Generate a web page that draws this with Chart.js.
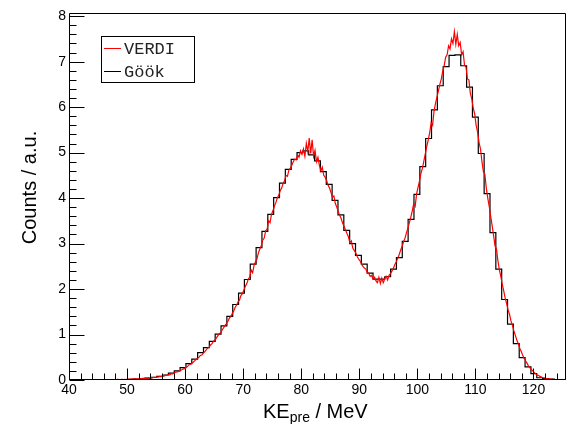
<!DOCTYPE html>
<html>
<head>
<meta charset="utf-8">
<script src="https://cdn.jsdelivr.net/npm/chart.js@4.4.1/dist/chart.umd.min.js"></script>
<style>
  html, body { margin: 0; padding: 0; background: #fff; }
  #wrap { width: 570px; height: 424px; }
</style>
</head>
<body>
<div id="wrap"><canvas id="spectrum"></canvas></div>
<script>
// axis range (MeV / counts)
const xMin = 40;
const xMax = 125.6;
const yMin = 0;
const yMax = 8.07;

// Göök: coarse histogram, 85 bins over the whole x range
const gookBins = 85;
const gookCounts = [
  0, 0, 0, 0, 0, 0, 0.003, 0.005, 0.008, 0.01,
  0.012, 0.018, 0.03, 0.04, 0.06, 0.08, 0.11, 0.15, 0.20, 0.27,
  0.36, 0.46, 0.60, 0.71, 0.85, 1.01, 1.19, 1.40, 1.66, 1.91,
  2.21, 2.55, 2.91, 3.27, 3.64, 4.01, 4.33, 4.63, 4.85, 5.00,
  5.04, 4.95, 4.82, 4.58, 4.30, 3.95, 3.63, 3.29, 3.00, 2.74,
  2.55, 2.35, 2.22, 2.22, 2.27, 2.44, 2.69, 3.05, 3.53, 4.08,
  4.69, 5.31, 5.94, 6.47, 6.89, 7.14, 7.15, 6.91, 6.44, 5.78,
  4.98, 4.10, 3.24, 2.44, 1.77, 1.23, 0.80, 0.49, 0.29, 0.14,
  0.05, 0.03, 0.02, 0.01, 0.005
];

// VERDI: fine histogram, 0.25 MeV bins, first bin centre at 40.125
const verdiStart = 40.125;
const verdiStep = 0.25;
const verdiCounts = [
  0, 0, 0, 0,                  // 40
  0, 0, 0, 0,                  // 41
  0, 0, 0, 0,                  // 42
  0, 0, 0, 0,                  // 43
  0, 0.005, 0, 0.005,          // 44
  0.005, 0, 0.005, 0.005,      // 45
  0.005, 0.01, 0.005, 0.005,   // 46
  0.01, 0.005, 0.01, 0.01,     // 47
  0.01, 0.015, 0.01, 0.01,     // 48
  0.015, 0.01, 0.015, 0.01,    // 49
  0.02, 0.015, 0.02, 0.025,    // 50
  0.02, 0.03, 0.025, 0.02,     // 51
  0.03, 0.025, 0.035, 0.035,   // 52
  0.04, 0.035, 0.045, 0.04,    // 53
  0.05, 0.045, 0.06, 0.055,    // 54
  0.07, 0.065, 0.08, 0.075,    // 55
  0.09, 0.085, 0.11, 0.10,     // 56
  0.12, 0.115, 0.14, 0.135,    // 57
  0.16, 0.17, 0.18, 0.19,      // 58
  0.21, 0.22, 0.24, 0.25,      // 59
  0.28, 0.29, 0.33, 0.34,      // 60
  0.36, 0.39, 0.42, 0.45,      // 61
  0.47, 0.50, 0.54, 0.55,      // 62
  0.59, 0.62, 0.66, 0.70,      // 63
  0.72, 0.77, 0.80, 0.85,      // 64
  0.88, 0.92, 0.97, 1.02,      // 65
  1.04, 1.10, 1.15, 1.20,      // 66
  1.24, 1.29, 1.36, 1.40,      // 67
  1.46, 1.52, 1.60, 1.65,      // 68
  1.72, 1.76, 1.86, 1.90,      // 69
  1.98, 2.06, 2.12, 2.22,      // 70
  2.26, 2.42, 2.36, 2.52,      // 71
  2.60, 2.66, 2.80, 2.88,      // 72
  2.96, 3.08, 3.12, 3.28,      // 73
  3.32, 3.50, 3.46, 3.64,      // 74
  3.72, 3.82, 3.90, 4.00,      // 75
  4.06, 4.16, 4.22, 4.32,      // 76
  4.38, 4.50, 4.48, 4.62,      // 77
  4.66, 4.72, 4.80, 4.86,      // 78
  4.84, 4.95, 4.90, 5.04,      // 79
  4.96, 5.08, 4.92, 5.20,      // 80
  5.02, 5.32, 4.98, 5.28,      // 81
  4.92, 5.05, 4.80, 4.90,      // 82
  4.72, 4.60, 4.68, 4.50,      // 83
  4.46, 4.38, 4.28, 4.22,      // 84
  4.12, 4.02, 4.05, 3.88,      // 85
  3.80, 3.70, 3.62, 3.55,      // 86
  3.45, 3.38, 3.30, 3.22,      // 87
  3.15, 3.02, 3.06, 2.90,      // 88
  2.85, 2.80, 2.72, 2.66,      // 89
  2.62, 2.55, 2.50, 2.46,      // 90
  2.44, 2.36, 2.35, 2.28,      // 91
  2.30, 2.22, 2.26, 2.18,      // 92
  2.14, 2.26, 2.12, 2.24,      // 93
  2.14, 2.22, 2.28, 2.20,      // 94
  2.30, 2.34, 2.40, 2.46,      // 95
  2.54, 2.60, 2.68, 2.76,      // 96
  2.86, 2.94, 3.04, 3.12,      // 97
  3.24, 3.34, 3.46, 3.58,      // 98
  3.72, 3.88, 3.82, 4.10,      // 99
  4.24, 4.38, 4.55, 4.66,      // 100
  4.82, 4.98, 5.14, 5.28,      // 101
  5.44, 5.66, 5.60, 5.92,      // 102
  6.08, 6.22, 6.36, 6.50,      // 103
  6.62, 6.80, 6.92, 7.10,      // 104
  7.15, 7.35, 7.28, 7.50,      // 105
  7.40, 7.66, 7.38, 7.60,      // 106
  7.35, 7.42, 7.15, 7.22,      // 107
  6.92, 6.88, 6.62, 6.60,      // 108
  6.30, 6.18, 5.98, 5.85,      // 109
  5.60, 5.45, 5.22, 5.08,      // 110
  4.80, 4.58, 4.52, 4.22,      // 111
  4.00, 3.82, 3.60, 3.40,      // 112
  3.18, 2.95, 2.88, 2.62,      // 113
  2.42, 2.28, 2.10, 1.96,      // 114
  1.80, 1.68, 1.54, 1.44,      // 115
  1.30, 1.20, 1.08, 0.98,      // 116
  0.88, 0.80, 0.70, 0.63,      // 117
  0.55, 0.48, 0.42, 0.37,      // 118
  0.31, 0.27, 0.23, 0.20,      // 119
  0.16, 0.14, 0.11, 0.10,      // 120
  0.08, 0.065, 0.05, 0.045,    // 121
  0.035, 0.03, 0.025, 0.02,    // 122
  0.015, 0.013, 0.01, 0.008,   // 123
  0.006, 0.005, 0.004, 0.003,  // 124
  0.002, 0                     // 125
];

// tick spacing, ROOT style (major / minor)
const xMajor = 10, xMinor = 2;
const yMajor = 1, yMinor = 0.2;

const seriesNames = ['VERDI', 'Göök'];
const seriesColors = ['#ff0000', '#000000'];

// build the point lists
const gookWidth = (xMax - xMin) / gookBins;
const gookPoints = gookCounts.map((c, k) => ({ x: xMin + k * gookWidth, y: c }));
gookPoints.push({ x: xMax, y: gookCounts[gookCounts.length - 1] });

const verdiPoints = verdiCounts.map((c, i) => ({ x: verdiStart + i * verdiStep, y: c }));

// ticks, frame, legend and titles drawn the ROOT way
const rootFrame = {
  id: 'rootFrame',
  afterDraw(chart) {
    const { ctx, chartArea: a, scales: { x, y } } = chart;
    const L = Math.round(a.left) + 0.5, R = Math.round(a.right) - 0.5;
    const T = Math.round(a.top) + 0.5, B = Math.round(a.bottom) - 0.5;
    ctx.save();
    ctx.strokeStyle = '#000';
    ctx.lineWidth = 1;
    ctx.beginPath();
    ctx.rect(L, T, R - L, B - T);
    // x ticks
    for (let v = xMin; v <= xMax + 1e-6; v += xMinor) {
      const px = Math.round(x.getPixelForValue(v)) + 0.5;
      const major = Math.abs(v / xMajor - Math.round(v / xMajor)) < 1e-6;
      ctx.moveTo(px, B);
      ctx.lineTo(px, B - (major ? 11 : 6));
    }
    // y ticks
    for (let i = 0; yMin + i * yMinor <= yMax + 1e-6; i++) {
      const v = yMin + i * yMinor;
      const py = Math.round(y.getPixelForValue(v)) + 0.5;
      const major = i % Math.round(yMajor / yMinor) === 0;
      ctx.moveTo(L, py);
      ctx.lineTo(L + (major ? 15 : 7), py);
    }
    ctx.stroke();

    // legend box
    const bx = 101, by = 36, bw = 93, bh = 46;
    ctx.fillStyle = '#fff';
    ctx.fillRect(bx, by, bw, bh);
    ctx.strokeRect(bx + 0.5, by + 0.5, bw, bh);
    ctx.font = '17px "Liberation Mono", monospace';
    ctx.textBaseline = 'middle';
    chart.data.datasets.forEach((ds, i) => {
      const ly = by + 12 + i * 23;
      ctx.strokeStyle = ds.borderColor;
      ctx.beginPath();
      ctx.moveTo(bx + 3, ly + 0.5);
      ctx.lineTo(bx + 20, ly + 0.5);
      ctx.stroke();
      ctx.fillStyle = '#222';
      ctx.fillText(ds.label, bx + 23, ly + 1);
    });

    // axis titles
    ctx.fillStyle = '#000';
    ctx.textBaseline = 'alphabetic';
    let tx = 263;
    ctx.font = '20px "Liberation Sans", Arial, sans-serif';
    ctx.fillText('KE', tx, 418);
    tx += ctx.measureText('KE').width;
    ctx.font = '14px "Liberation Sans", Arial, sans-serif';
    ctx.fillText('pre', tx, 422);
    tx += ctx.measureText('pre').width;
    ctx.font = '20px "Liberation Sans", Arial, sans-serif';
    ctx.fillText(' / MeV', tx, 418);

    ctx.translate(36, 187.5);
    ctx.rotate(-Math.PI / 2);
    ctx.textAlign = 'center';
    ctx.fillText('Counts / a.u.', 0, 0);
    ctx.restore();
  }
};

const tickFont = { family: '"Liberation Sans", Arial, sans-serif', size: 14 };

new Chart(document.getElementById('spectrum'), {
  type: 'line',
  data: {
    datasets: [
      {
        label: seriesNames[0],
        data: verdiPoints,
        borderColor: seriesColors[0],
        borderWidth: 1.2,
        pointRadius: 0,
        tension: 0
      },
      {
        label: seriesNames[1],
        data: gookPoints,
        borderColor: seriesColors[1],
        borderWidth: 1.2,
        pointRadius: 0,
        stepped: 'before'
      }
    ]
  },
  options: {
    animation: false,
    responsive: true,
    maintainAspectRatio: false,
    events: [],
    layout: { padding: { left: 0, right: 4, top: 13, bottom: 0 } },
    plugins: {
      legend: { display: false },
      tooltip: { enabled: false }
    },
    scales: {
      x: {
        type: 'linear',
        min: xMin,
        max: xMax,
        afterFit: s => { s.height = 44; },
        ticks: {
          stepSize: xMajor,
          includeBounds: false,
          maxRotation: 0,
          autoSkip: false,
          padding: 2,
          color: '#000',
          font: tickFont
        },
        grid: { drawOnChartArea: false, drawTicks: false },
        border: { display: false }
      },
      y: {
        type: 'linear',
        min: yMin,
        max: yMax,
        afterFit: s => { s.width = 69; },
        ticks: {
          stepSize: yMajor,
          includeBounds: false,
          padding: 3,
          color: '#000',
          font: tickFont
        },
        grid: { drawOnChartArea: false, drawTicks: false },
        border: { display: false }
      }
    }
  },
  plugins: [rootFrame]
});
</script>
</body>
</html>
